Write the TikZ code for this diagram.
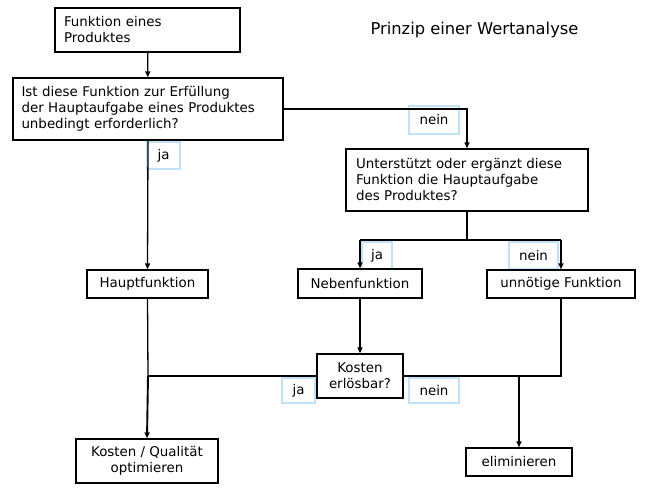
\documentclass[tikz,border=0pt]{standalone}
\usepackage{fontspec}
\setmainfont{DejaVu Sans}
\usetikzlibrary{arrows.meta,positioning}
\definecolor{lblue}{HTML}{BFE2F8}
\tikzset{
  box/.style={draw=black, line width=1.4pt, fill=white, inner ysep=0pt, font=\fontsize{13.4}{16}\selectfont},
  lbox/.style={box, align=left, inner xsep=9pt},
  cbox/.style={box, align=center, inner xsep=2pt},
  lbl/.style={draw=lblue, line width=1.4pt, inner sep=0pt, font=\fontsize{13.4}{16}\selectfont},
  conn/.style={line width=1.3pt},
  thick conn/.style={line width=1.9pt},
  arr/.style={-{Triangle[length=6pt,width=5pt]}}
}
\begin{document}
\begin{tikzpicture}[x=1pt,y=-1pt]
\useasboundingbox (0,0) rectangle (645,492);
% label boxes (behind)
\node[lbl, minimum width=33pt, minimum height=27pt] (lja1) at (163.5,155.5) {ja};
\node[lbl, minimum width=50pt, minimum height=28pt] (lnein1) at (434,120) {nein};
\node[lbl, minimum width=30pt, minimum height=27pt] (lja2) at (377,255.5) {ja};
\node[lbl, minimum width=49pt, minimum height=27pt] (lnein2) at (533.5,255.5) {nein};
\node[lbl, minimum width=33pt, minimum height=25pt] (lja3) at (298.5,390.5) {ja};
\node[lbl, minimum width=50pt, minimum height=25pt] (lnein3) at (434,390.5) {nein};
% boxes
\node[lbox, text width=167pt, minimum height=44pt] (b1) at (147.5,30) {Funktion eines\\Produktes};
\node[lbox, inner xsep=8.5pt, text width=253pt, minimum height=62pt] (b2) at (148,109) {Ist diese Funktion zur Erfüllung\\der Hauptaufgabe eines Produktes\\unbedingt erforderlich?};
\node[lbox, inner xsep=10pt, text width=222pt, minimum height=62pt] (b3) at (467,180) {Unterstützt oder ergänzt diese\\Funktion die Hauptaufgabe\\des Produktes?};
\node[cbox, minimum width=121pt, minimum height=28pt] (haupt) at (147.5,284) {Hauptfunktion};
\node[cbox, minimum width=124pt, minimum height=29pt] (neben) at (360,283.5) {Nebenfunktion};
\node[cbox, minimum width=148pt, minimum height=28pt] (unn) at (561,284) {unnötige Funktion};
\node[cbox, minimum width=86pt, minimum height=44pt] (kost) at (360,376) {Kosten\\erlösbar?};
\node[cbox, minimum width=142pt, minimum height=44pt] (kq) at (147,461) {Kosten / Qualität\\optimieren};
\node[cbox, minimum width=106pt, minimum height=28pt] (elim) at (519,462) {eliminieren};
\node[font=\fontsize{16.3}{19}\selectfont] (title) at (474.5,30) {Prinzip einer Wertanalyse};
% coordinates
\coordinate (c1) at (467,109);
\coordinate (s3) at (467,240);
\coordinate (sL) at (360,240);
\coordinate (sR) at (561,240);
\coordinate (jL) at (148,376);
\coordinate (jR) at (519,376);
\coordinate (uR) at (561,376);
% connectors
\draw[conn,arr] (b1) -- (b2);
\draw[conn,arr] (b2.east) -- (c1) -- (b3.north);
\draw[conn,arr] (b2.south) -- (haupt.north);
\draw[thick conn] (b3.south) -- (s3);
\draw[conn] (sL) -- (sR);
\draw[conn,arr] (sL) -- (neben.north);
\draw[conn,arr] (sR) -- (unn.north);
\draw[conn,arr] (neben.south) -- (kost.north);
\draw[conn] (kost.west) -- (jL);
\draw[conn] (haupt.south) -- (jL);
\draw[thick conn,arr] (jL) -- (kq.north);
\draw[conn] (kost.east) -- (jR);
\draw[conn] (unn.south) -- (uR) -- (jR);
\draw[thick conn,arr] (jR) -- (elim.north);
\end{tikzpicture}
\end{document}
